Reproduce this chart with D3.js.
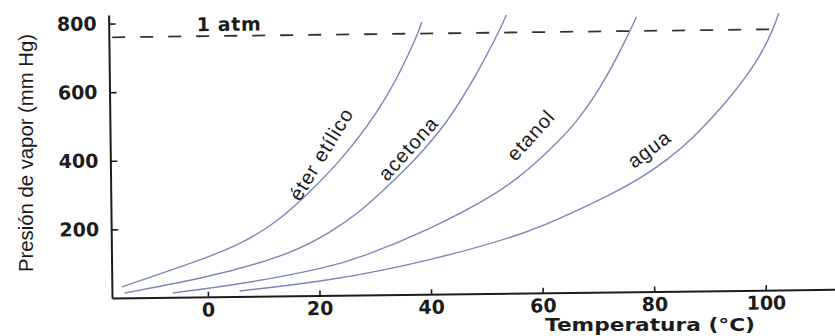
<!DOCTYPE html>
<html>
<head>
<meta charset="utf-8">
<script src="https://cdn.jsdelivr.net/npm/d3@7"></script>
<style>
  body { margin: 0; background: #fff; }
  svg { display: block; }
</style>
</head>
<body>
<script>
// values (temperature in °C, pressure in mm Hg)
const eterT = [-15.4, 0.4, 6.3, 12.4, 18.3, 24.6, 32.6, 38.4, 38.9];
const eterP = [32, 116, 156, 213, 299, 400, 568, 765, 794];

const acetonaT = [-14.9, 0.4, 11.1, 16.5, 21.9, 27.2, 31.7, 37.1, 43.4, 48.7, 52.9, 54.1];
const acetonaP = [14, 58, 105, 136, 182, 239, 305, 386, 501, 640, 768, 811];

const etanolT = [-6.3, 7.5, 21.9, 27.2, 39.8, 52.3, 57.7, 63.1, 66.7, 72.0, 76.5, 77.4];
const etanolP = [12.5, 39, 83, 108, 187, 292, 359, 440, 500, 625, 769, 801];

const aguaT = [5.7, 21.9, 39.8, 57.7, 66.1, 72.0, 77.9, 82.8, 86.9, 93.0, 99.0, 102.0, 102.9];
const aguaP = [16, 42, 97, 175, 237, 281, 331, 385, 440, 541, 665, 763, 807];

const names = ["éter etílico", "acetona", "etanol", "agua"];
const labelT = [20.6, 36.2, 58.2, 79.4];
const labelP = [412, 426, 460, 416];
const labelAngle = [-58, -47, -47, -36];

const xTicks = [0, 20, 40, 60, 80, 100];
const yTicks = [200, 400, 600, 800];
const atm = 760;

const width = 835, height = 336;
const svg = d3.select("body")
    .append("svg")
    .attr("width", width)
    .attr("height", height)
;

// the scanned figure sits slightly tilted
const g = svg.append("g")
    .attr("transform", "rotate(-0.69, 112, 298)");

const x = d3.scaleLinear().domain([-17.2, 112.4]).range([112, 835]);
const y = d3.scaleLinear().domain([0, 825]).range([298, 15]);

const ink = "#1c1c1c";
const curveColor = "#7c87b9";

// x axis
const xAxis = g.append("g")
    .attr("transform", `translate(0,${y(0)})`)
    .call(d3.axisBottom(x).tickValues(xTicks).tickSizeInner(-5).tickSizeOuter(0).tickPadding(6));

// y axis
const yAxis = g.append("g")
    .attr("transform", `translate(${x.range()[0]},0)`)
    .call(d3.axisLeft(y).tickValues(yTicks).tickSizeInner(-7).tickSizeOuter(0).tickPadding(12));

[xAxis, yAxis].forEach(a => {
    a.select(".domain").attr("stroke", ink).attr("stroke-width", 2);
    a.selectAll(".tick line").attr("stroke", ink).attr("stroke-width", 1.6);
    a.selectAll(".tick text")
        .attr("fill", ink)
        .style("font-family", "'DejaVu Sans', sans-serif")
        .style("font-weight", "bold")
        .style("font-size", "19px");
});

// 1 atm dashed line
g.append("line")
    .attr("x1", x(-16.6))
    .attr("x2", x(103.8))
    .attr("y1", y(atm))
    .attr("y2", y(atm))
    .attr("stroke", "#333")
    .attr("stroke-width", 1.8)
    .attr("stroke-dasharray", "13,15");

g.append("text")
    .attr("x", x(4.3))
    .attr("y", y(atm) - 5)
    .attr("text-anchor", "middle")
    .attr("fill", ink)
    .attr("textLength", 64)
    .attr("lengthAdjust", "spacing")
    .style("font-family", "'DejaVu Sans', sans-serif")
    .style("font-weight", "600")
    .style("font-size", "19px")
    .text("1 atm");

// curves
const series = [
    d3.zip(eterT, eterP),
    d3.zip(acetonaT, acetonaP),
    d3.zip(etanolT, etanolP),
    d3.zip(aguaT, aguaP)
];

const line = d3.line()
    .x(d => x(d[0]))
    .y(d => y(d[1]))
    .curve(d3.curveBasis);

g.selectAll("path.curve")
    .data(series)
    .enter()
    .append("path")
    .attr("class", "curve")
    .attr("d", line)
    .attr("fill", "none")
    .attr("stroke", curveColor)
    .attr("stroke-width", 1.4);

g.selectAll("text.name")
    .data(names)
    .enter()
    .append("text")
    .attr("class", "name")
    .attr("transform", (d, i) => `translate(${x(labelT[i])},${y(labelP[i])}) rotate(${labelAngle[i]})`)
    .attr("text-anchor", "middle")
    .attr("dy", "0.35em")
    .attr("fill", ink)
    .style("font-family", "'Liberation Sans', Arial, sans-serif")
    .style("font-size", "20px")
    .style("letter-spacing", "1px")
    .text(d => d);

// axis titles
svg.append("text")
    .attr("transform", "translate(33,153) rotate(-90)")
    .attr("text-anchor", "middle")
    .attr("fill", ink)
    .attr("textLength", 238)
    .attr("lengthAdjust", "spacingAndGlyphs")
    .style("font-family", "'Liberation Sans', Arial, sans-serif")
    .style("font-size", "20px")
    .text("Presión de vapor (mm Hg)");

svg.append("text")
    .attr("x", 545)
    .attr("y", 331)
    .attr("fill", ink)
    .attr("textLength", 210)
    .attr("lengthAdjust", "spacingAndGlyphs")
    .style("font-family", "'DejaVu Sans', sans-serif")
    .style("font-weight", "bold")
    .style("font-size", "18px")
    .text("Temperatura (°C)");
</script>
</body>
</html>
